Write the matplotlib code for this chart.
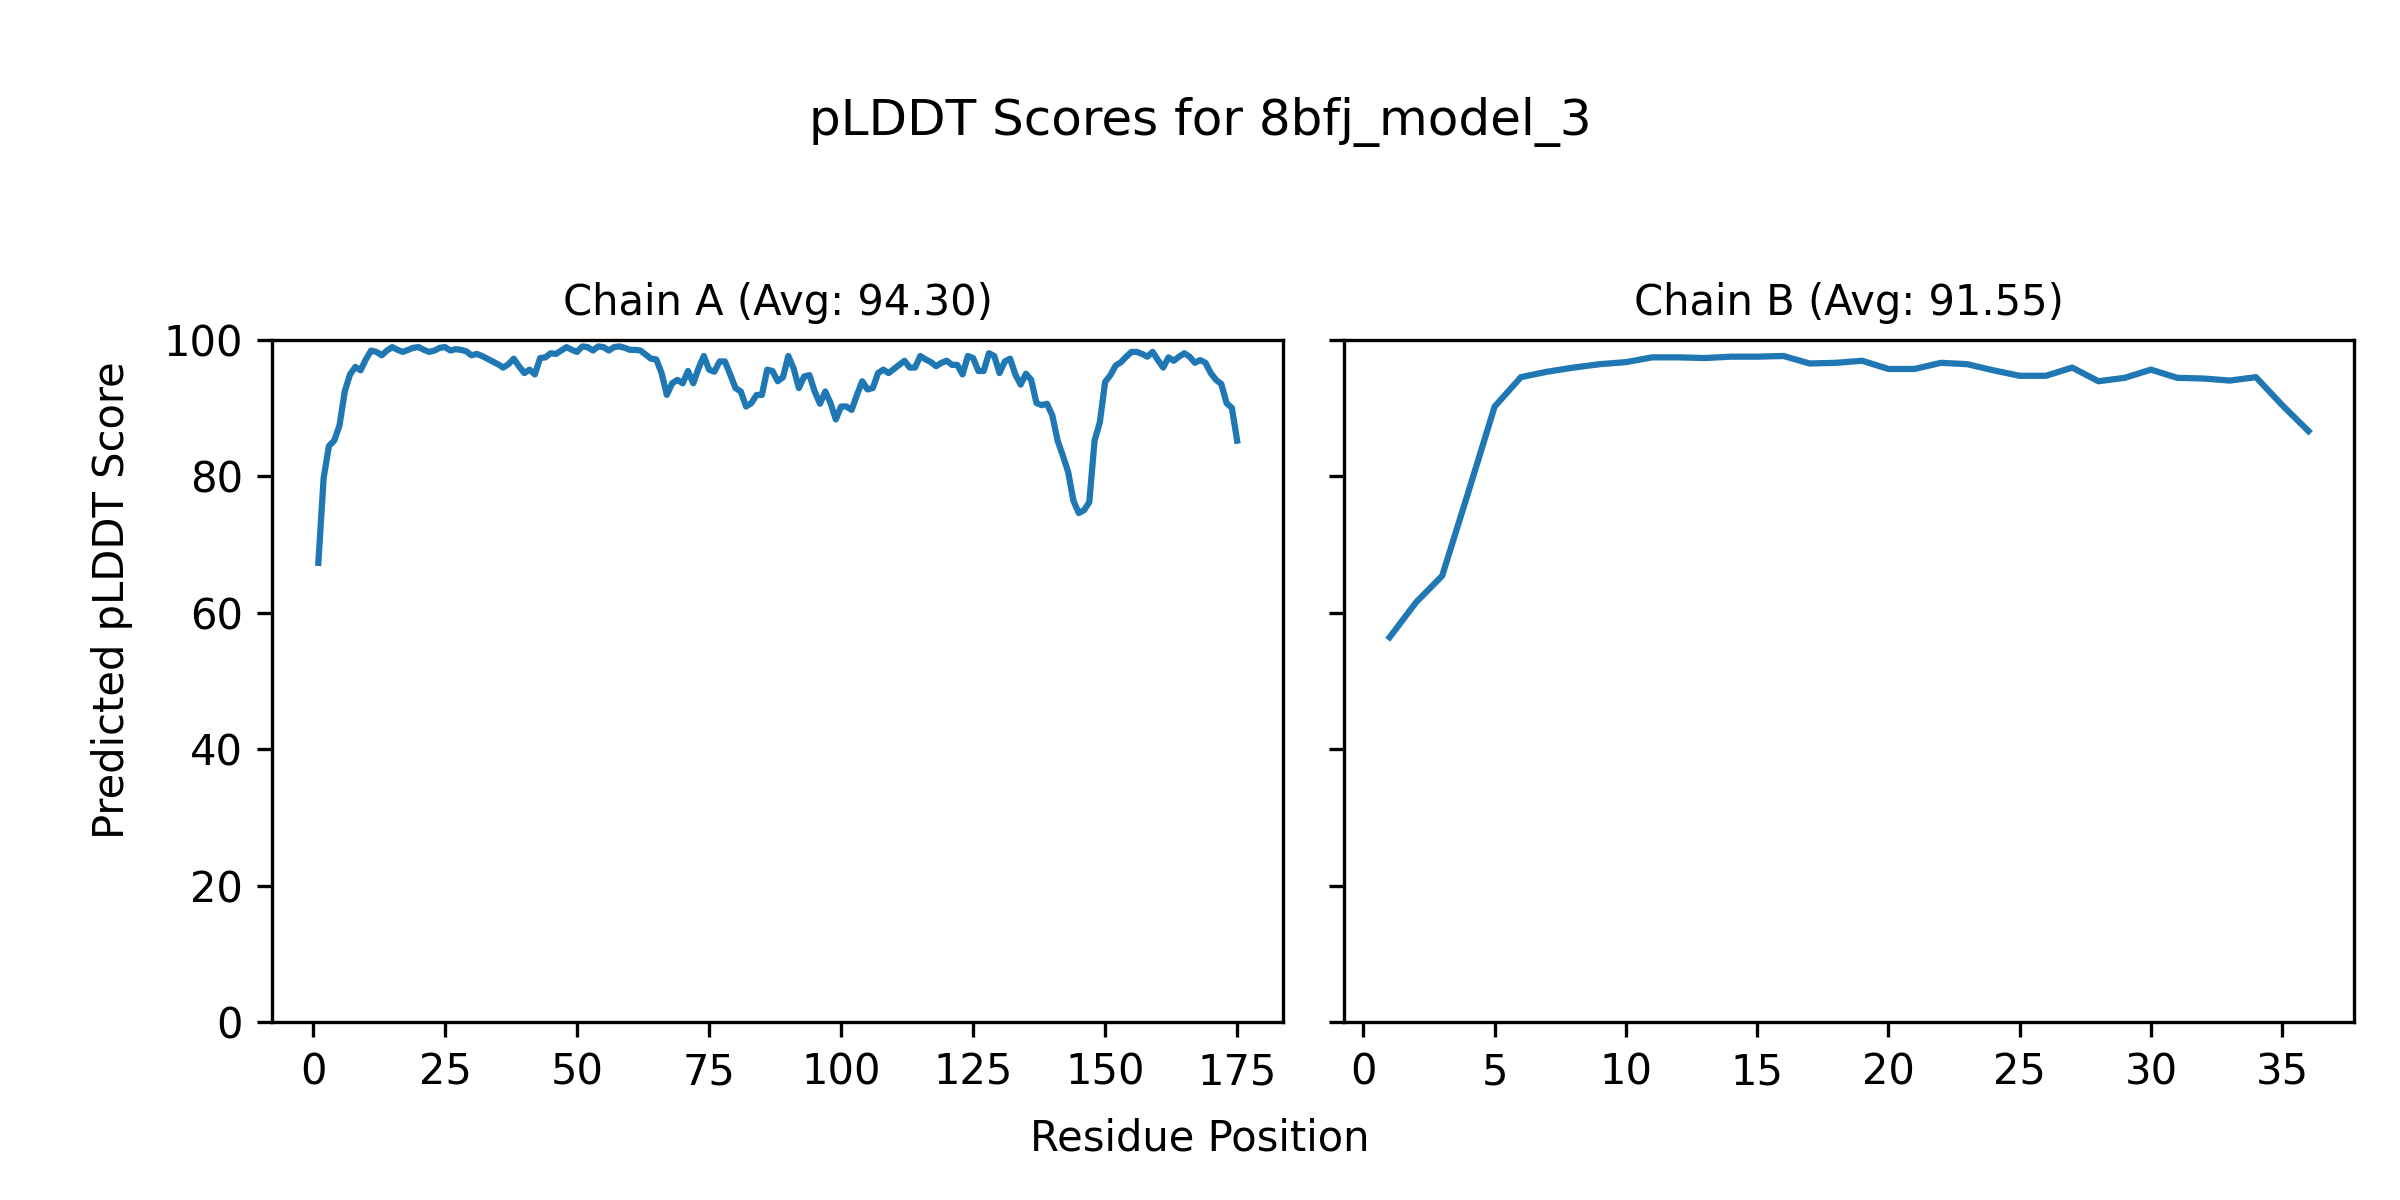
import numpy as np
import matplotlib
matplotlib.use('Agg')
import matplotlib.pyplot as plt

MODEL_NAME = '8bfj_model_3'

# 每条链的 pLDDT
chain_a_plddt = [
    67.3, 79.7, 84.4, 85.2, 87.4, 92.4, 94.9, 96.0, 95.5, 97.1,
    98.4, 98.2, 97.7, 98.4, 98.9, 98.5, 98.2, 98.5, 98.8, 98.9,
    98.5, 98.2, 98.4, 98.8, 98.9, 98.4, 98.6, 98.5, 98.3, 97.7,
    97.9, 97.6, 97.2, 96.8, 96.4, 95.9, 96.4, 97.2, 96.1, 95.1,
    95.6, 94.9, 97.3, 97.4, 98.0, 97.9, 98.4, 98.9, 98.5, 98.2,
    99.0, 98.9, 98.4, 99.0, 98.9, 98.4, 98.9, 99.0, 98.8, 98.5,
    98.5, 98.4, 97.8, 97.2, 97.1, 95.1, 91.9, 93.6, 94.1, 93.6,
    95.4, 93.6, 95.8, 97.6, 95.6, 95.3, 96.8, 96.8, 94.9, 92.9,
    92.4, 90.2, 90.7, 91.9, 91.9, 95.6, 95.4, 93.9, 94.5, 97.6,
    95.8, 92.9, 94.6, 94.8, 92.4, 90.6, 92.4, 90.7, 88.3, 90.2,
    90.2, 89.7, 91.9, 93.9, 92.7, 92.9, 95.1, 95.6, 95.1, 95.7,
    96.3, 96.9, 95.9, 95.9, 97.6, 97.1, 96.7, 96.1, 96.6, 96.9,
    96.3, 96.3, 94.9, 97.6, 97.3, 95.4, 95.4, 98.0, 97.6, 95.1,
    96.8, 97.2, 94.9, 93.4, 95.0, 94.1, 90.7, 90.4, 90.6, 88.9,
    85.2, 83.0, 80.6, 76.4, 74.6, 75.0, 76.2, 85.2, 87.9, 93.8,
    94.8, 96.2, 96.7, 97.5, 98.2, 98.2, 97.9, 97.5, 98.2, 97.0,
    95.9, 97.4, 96.9, 97.5, 98.0, 97.5, 96.6, 97.0, 96.6, 95.1,
    94.1, 93.5, 90.7, 90.0, 85.2,
]
chain_b_plddt = [
    56.4, 61.5, 65.4, 77.7, 90.2, 94.5, 95.3, 95.9, 96.4, 96.7,
    97.4, 97.4, 97.3, 97.5, 97.5, 97.6, 96.5, 96.6, 96.9, 95.7,
    95.7, 96.6, 96.4, 95.5, 94.7, 94.7, 95.9, 93.9, 94.4, 95.6,
    94.4, 94.3, 94.0, 94.5, 90.4, 86.6,
]
chain_names = ['A', 'B']
chain_avgs = [94.30, 91.55]

chains = [chain_a_plddt, chain_b_plddt]

fig, axes = plt.subplots(1, 2, figsize=(8, 4), dpi=300, sharey=True)

for ax, name, avg, scores in zip(axes, chain_names, chain_avgs, chains):
    pos = np.arange(1, len(scores) + 1)
    ax.plot(pos, scores, color='#1f77b4', lw=1.5)
    ax.set_title(f'Chain {name} (Avg: {avg:.2f})', fontsize=10)
    ax.set_ylim(0, 100)

axes[0].set_xticks(np.arange(0, 176, 25))
axes[1].set_xticks(np.arange(0, 36, 5))

fig.suptitle(f'pLDDT Scores for {MODEL_NAME}', fontsize=12, y=0.898, va='center')
fig.supxlabel('Residue Position', fontsize=10, y=0.051, va='center')
fig.supylabel('Predicted pLDDT Score', fontsize=10, x=0.0466, ha='center')
fig.subplots_adjust(left=0.1135, right=0.981, bottom=0.148, top=0.717, wspace=0.06)
fig.savefig('out.png')
